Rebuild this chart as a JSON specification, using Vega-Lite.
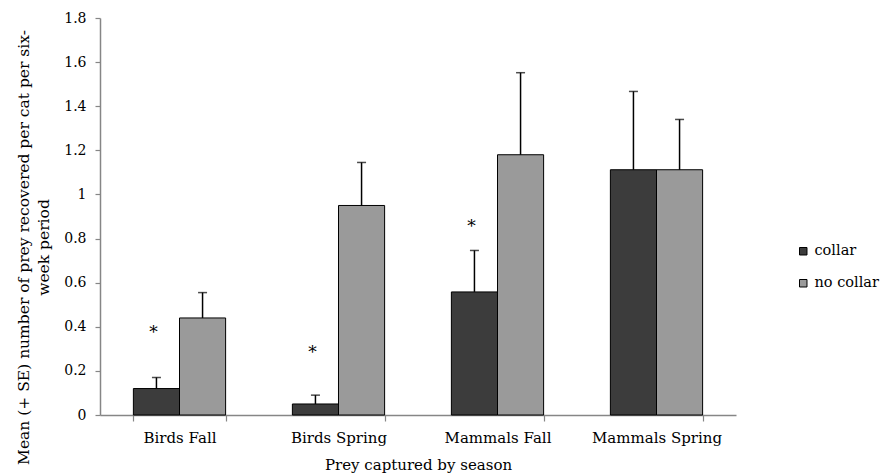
{
  "$schema": "https://vega.github.io/schema/vega-lite/v6.json",
  "width": 636,
  "height": 397,
  "autosize": "none",
  "padding": {"left": 100, "top": 18, "right": 146, "bottom": 61},
  "background": "white",
  "config": {
    "view": {"stroke": null},
    "font": "DejaVu Serif",
    "text": {"font": "DejaVu Serif"},
    "axis": {
      "labelFont": "DejaVu Serif",
      "titleFont": "DejaVu Serif",
      "labelColor": "black",
      "titleColor": "black",
      "titleFontWeight": "normal",
      "domainColor": "#868686",
      "tickColor": "#868686",
      "domainWidth": 1.5,
      "tickWidth": 1.2,
      "grid": false
    },
    "legend": {"labelFont": "DejaVu Serif", "labelColor": "black"}
  },
  "data": {
    "values": [
      {"prey": "Birds Fall", "group": "collar", "mean": 0.12, "upper": 0.17, "star": 0.39},
      {"prey": "Birds Fall", "group": "no collar", "mean": 0.44, "upper": 0.555, "star": null},
      {"prey": "Birds Spring", "group": "collar", "mean": 0.05, "upper": 0.09, "star": 0.30},
      {"prey": "Birds Spring", "group": "no collar", "mean": 0.95, "upper": 1.145, "star": null},
      {"prey": "Mammals Fall", "group": "collar", "mean": 0.558, "upper": 0.746, "star": 0.87},
      {"prey": "Mammals Fall", "group": "no collar", "mean": 1.18, "upper": 1.552, "star": null},
      {"prey": "Mammals Spring", "group": "collar", "mean": 1.112, "upper": 1.467, "star": null},
      {"prey": "Mammals Spring", "group": "no collar", "mean": 1.112, "upper": 1.34, "star": null}
    ]
  },
  "encoding": {
    "x": {
      "field": "prey",
      "type": "nominal",
      "sort": ["Birds Fall", "Birds Spring", "Mammals Fall", "Mammals Spring"],
      "scale": {"paddingInner": 0.42, "paddingOuter": 0.21},
      "axis": {
        "title": "Prey captured by season",
        "labelAngle": 0,
        "labelFontSize": 15,
        "titleFontSize": 15,
        "tickBand": "extent",
        "tickSize": 6,
        "labelPadding": 9,
        "titlePadding": 12
      }
    },
    "xOffset": {
      "field": "group",
      "type": "nominal",
      "sort": ["collar", "no collar"],
      "scale": {"paddingInner": 0, "paddingOuter": 0}
    }
  },
  "layer": [
    {
      "mark": {"type": "bar", "stroke": "black", "strokeWidth": 1},
      "encoding": {
        "y": {
          "field": "mean",
          "type": "quantitative",
          "scale": {"domain": [0, 1.8], "nice": false},
          "axis": {
            "title": ["Mean (+ SE) number of prey recovered per cat per six-", "week period"],
            "values": [0, 0.2, 0.4, 0.6, 0.8, 1, 1.2, 1.4, 1.6, 1.8],
            "format": "~g",
            "labelFontSize": 14,
            "titleFontSize": 15.5,
            "tickSize": 5,
            "labelPadding": 9,
            "titlePadding": 12,
            "titleLineHeight": 20,
            "titleY": 229
          }
        },
        "fill": {
          "field": "group",
          "type": "nominal",
          "scale": {"domain": ["collar", "no collar"], "range": ["#3c3c3c", "#9a9a9a"]},
          "legend": {
            "title": null,
            "orient": "none",
            "legendX": 696,
            "legendY": 226,
            "padding": 0,
            "symbolType": "square",
            "symbolSize": 56,
            "symbolStrokeColor": "black",
            "symbolStrokeWidth": 1,
            "labelFontSize": 14.5,
            "labelOffset": 4,
            "rowPadding": 17
          }
        }
      }
    },
    {
      "mark": {"type": "rule", "color": "black", "strokeWidth": 1.5},
      "encoding": {
        "y": {"field": "mean", "type": "quantitative"},
        "y2": {"field": "upper"}
      }
    },
    {
      "mark": {"type": "tick", "color": "black", "thickness": 1.5, "size": 9},
      "encoding": {
        "y": {"field": "upper", "type": "quantitative"}
      }
    },
    {
      "transform": [{"filter": "datum.star != null"}],
      "mark": {"type": "text", "text": "*", "fontSize": 17, "baseline": "alphabetic", "dy": 9, "dx": -3, "color": "black", "font": "DejaVu Serif"},
      "encoding": {
        "y": {"field": "star", "type": "quantitative"}
      }
    }
  ]
}
